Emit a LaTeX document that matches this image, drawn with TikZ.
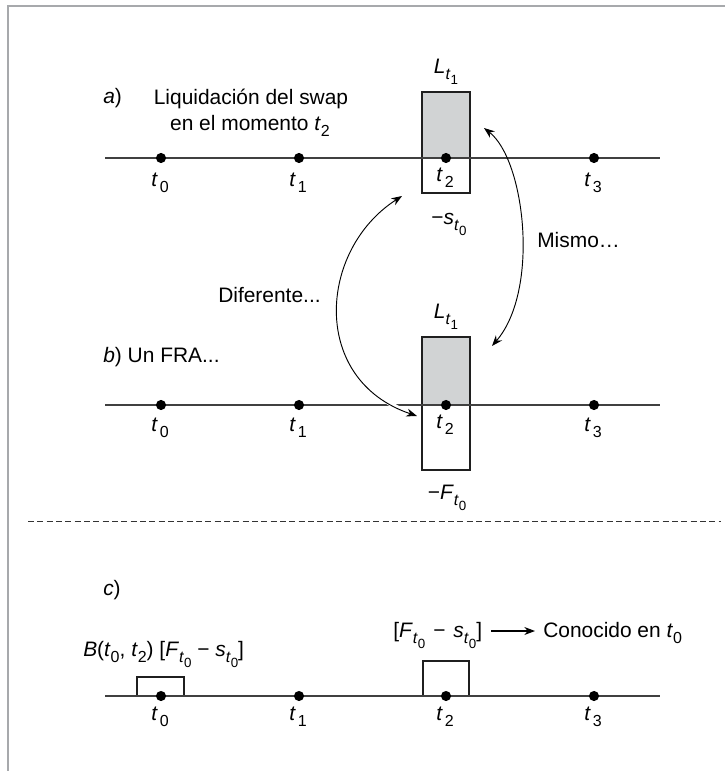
\documentclass[tikz,border=0pt]{standalone}
\usepackage{fontspec}
\setmainfont{Liberation Sans}
\usetikzlibrary{arrows.meta}
\definecolor{boxgray}{HTML}{D1D3D4}
\definecolor{framegray}{HTML}{A7A9AC}
\newcommand\sbA[1]{\raisebox{-0.32em}{\fontsize{12}{12}\selectfont #1}}
\newcommand\sbB[1]{\raisebox{-0.28em}{\fontsize{10}{10}\selectfont #1}}
\newcommand\tsb[1]{\textit{t}\kern1.5pt\sbA{#1}}
\newcommand\tsm[1]{\textit{t}\sbA{#1}}
\newcommand\Lt{\textit{L}\sbA{\textit{t}\sbB{1}}}
\newcommand\st{\textit{s}\sbA{\textit{t}\sbB{0}}}
\newcommand\Ft{\textit{F}\sbA{\textit{t}\sbB{0}}}
\begin{document}
\begin{tikzpicture}[x=0.75pt,y=-0.75pt,
  every node/.style={font=\fontsize{15.7}{19}\selectfont, inner sep=0pt},
  tline/.style={draw=black!75, line width=1.1pt},
  dot/.style={circle, fill=black, minimum size=7.6pt, inner sep=0pt},
  tlab/.style={anchor=base},
  boxthick/.style={draw=black!88, line width=1.9pt},
  boxthin/.style={draw=black!88, line width=1.1pt},
  dbl/.style={{Stealth[length=8pt,width=6pt]}-{Stealth[length=8pt,width=6pt]}, line width=0.7pt},
  arr/.style={-{Stealth[length=8pt,width=6pt]}, line width=0.8pt}]
\useasboundingbox (0,0) rectangle (725,771);
% frame
\coordinate (fTL) at (8,6);
\coordinate (fTR) at (725,6);
\coordinate (fBL) at (8,771);
\draw[framegray, line width=1.6pt] (fBL) -- (fTL) -- (fTR);

% boxes (behind timelines)
\draw[boxthick, fill=boxgray] (422,92) rectangle (470,158);
\draw[boxthin] (422,158) rectangle (470,193);
\draw[boxthick, fill=boxgray] (422,337) rectangle (470,405);
\draw[boxthick] (422,405) rectangle (470,470);
\draw[boxthick] (137,696) -- (137,677) -- (184,677) -- (184,696);
\draw[boxthin] (423,696) -- (423,661) -- (469,661) -- (469,696);

% timelines
\foreach \n/\y in {a/158, b/405, c/696}{
  \coordinate (\n L) at (105,\y);
  \coordinate (\n R) at (660,\y);
  \draw[tline] (\n L) -- (\n R);
}

% curved arrow Diferente (with white halo)
\coordinate (d1) at (402,196);
\coordinate (d2) at (417,416);
\draw[dbl, preaction={draw=white, line width=3.5pt, -}] (d1) .. controls (318,250) and (310,380) .. (d2);
% curved arrow Mismo
\coordinate (m1) at (484,128);
\coordinate (m2) at (492,346);
\draw[dbl] (m1) .. controls (525,160) and (540,290) .. (m2);

% dots
\foreach \n/\y in {a/158, b/405, c/696}{
  \foreach \i/\x in {0/161, 1/299, 2/446, 3/594}{
    \node[dot] (\n\i) at (\x,\y) {};
  }
}
\node[tlab] (la0) at (160,186) {\tsb{0}};
\node[tlab] (la1) at (298,186) {\tsb{1}};
\node[tlab] (la2) at (445,181) {\tsb{2}};
\node[tlab] (la3) at (593,186) {\tsb{3}};
\node[tlab] (lb0) at (160,431) {\tsb{0}};
\node[tlab] (lb1) at (298,431) {\tsb{1}};
\node[tlab] (lb2) at (445,428) {\tsb{2}};
\node[tlab] (lb3) at (593,431) {\tsb{3}};
\node[tlab] (lc0) at (160,720) {\tsb{0}};
\node[tlab] (lc1) at (298,720) {\tsb{1}};
\node[tlab] (lc2) at (445,720) {\tsb{2}};
\node[tlab] (lc3) at (593,720) {\tsb{3}};

% texts a)
\node[anchor=base west] (alab) at (103,103) {\textit{a})};
\node[anchor=base] (liq1) at (251,104) {Liquidación del swap};
\node[anchor=base] (liq2) at (250,130) {en el momento \tsm{2}};
\node[anchor=base] (aL1) at (446,73) {\Lt};
\node[anchor=base] (ast) at (449,224) {−\st};
\node[anchor=base west] (mismo) at (537,247) {Mismo…};
\node[anchor=base west] (dif) at (218,302) {Diferente...};

% texts b)
\node[anchor=base west] (blab) at (103,362) {\textit{b}) Un FRA...};
\node[anchor=base] (bL1) at (446,318) {\Lt};
\node[anchor=base] (bF) at (447,499) {−\Ft};

% dashed separator
\coordinate (s1) at (28,521);
\coordinate (s2) at (721,521);
\draw[black!80, line width=0.6pt, dash pattern=on 4.5pt off 2.5pt] (s1) -- (s2);

% texts c)
\node[anchor=base west] (clab) at (103,595) {\textit{c})};
\node[anchor=base west] (bt) at (83,656) {\textit{B}(\tsm{0}, \tsm{2}) [\Ft{} − \st]};
\node[anchor=base west] (fs) at (393,637) {[\Ft\hspace{6pt}−\hspace{6pt}\st]};
\node[anchor=base west] (con) at (543,637) {Conocido en \tsm{0}};
\coordinate (k1) at (491,631);
\coordinate (k2) at (535,631);
\draw[arr] (k1) -- (k2);
\end{tikzpicture}
\end{document}
